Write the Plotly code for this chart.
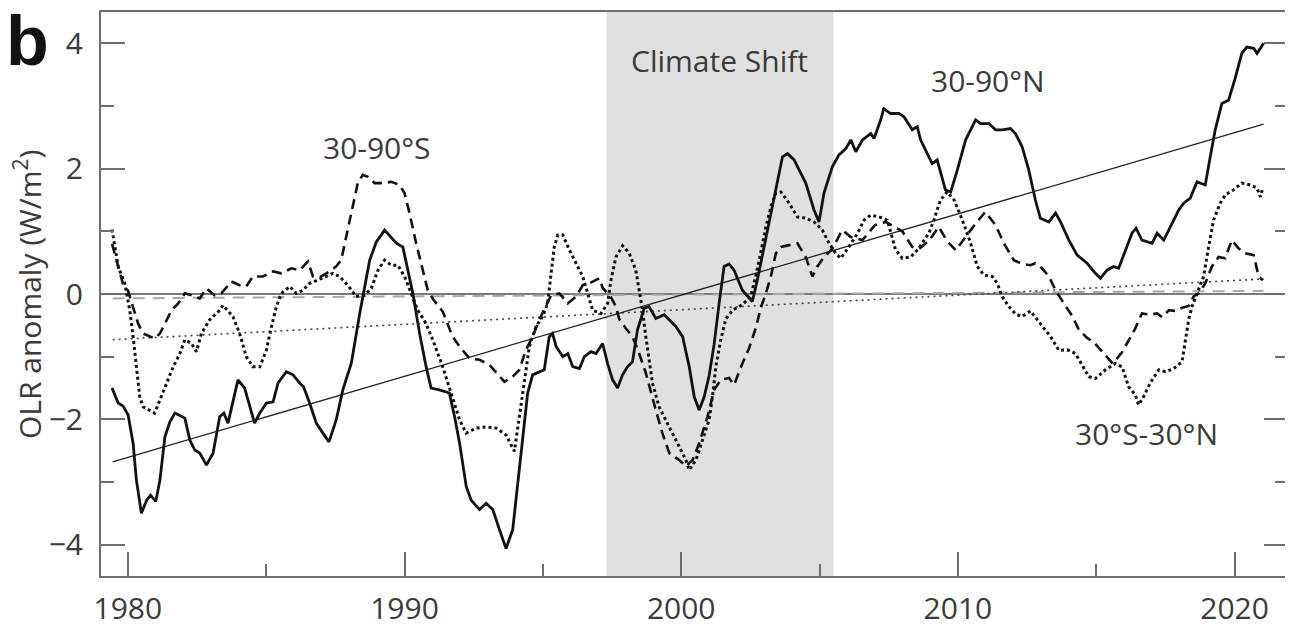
import plotly.graph_objects as go

# 30-90°N (solid)
north_years = [1979.43, 1979.65, 1979.83, 1980.01, 1980.19, 1980.31, 1980.49, 1980.68, 1980.82, 1981.01,
               1981.16, 1981.34, 1981.52, 1981.70, 1982.06, 1982.24, 1982.42, 1982.60, 1982.84, 1983.08,
               1983.32, 1983.47, 1983.62, 1983.80, 1983.98, 1984.22, 1984.58, 1984.77, 1985.01, 1985.25,
               1985.43, 1985.73, 1985.97, 1986.21, 1986.35, 1986.57, 1986.81, 1987.05, 1987.27, 1987.53,
               1987.77, 1988.08, 1988.38, 1988.74, 1988.98, 1989.28, 1989.52, 1989.70, 1989.94, 1990.30,
               1990.54, 1990.78, 1990.96, 1991.26, 1991.62, 1991.81, 1991.99, 1992.23, 1992.41, 1992.71,
               1992.95, 1993.19, 1993.43, 1993.67, 1993.91, 1994.09, 1994.27, 1994.45, 1994.63, 1995.05,
               1995.23, 1995.35, 1995.48, 1995.72, 1995.90, 1996.08, 1996.32, 1996.50, 1996.74, 1996.92,
               1997.16, 1997.34, 1997.52, 1997.70, 1997.88, 1998.06, 1998.24, 1998.42, 1998.66, 1998.84,
               1999.08, 1999.39, 1999.81, 2000.05, 2000.29, 2000.47, 2000.65, 2000.83, 2001.01, 2001.19,
               2001.37, 2001.55, 2001.73, 2001.91, 2002.21, 2002.57, 2002.75, 2003.06, 2003.36, 2003.66,
               2003.84, 2004.08, 2004.50, 2004.80, 2004.98, 2005.16, 2005.46, 2005.70, 2005.95, 2006.13,
               2006.31, 2006.55, 2006.85, 2006.97, 2007.21, 2007.32, 2007.57, 2007.87, 2008.05, 2008.35,
               2008.53, 2008.65, 2008.95, 2009.07, 2009.25, 2009.55, 2009.74, 2009.98, 2010.28, 2010.64,
               2010.82, 2011.12, 2011.36, 2011.60, 2011.90, 2012.08, 2012.32, 2012.56, 2012.80, 2012.98,
               2013.29, 2013.53, 2013.71, 2014.01, 2014.31, 2014.67, 2014.97, 2015.15, 2015.39, 2015.63,
               2015.81, 2016.05, 2016.29, 2016.44, 2016.65, 2017.02, 2017.20, 2017.44, 2017.62, 2017.80,
               2017.98, 2018.16, 2018.40, 2018.64, 2018.94, 2019.12, 2019.30, 2019.54, 2019.78, 2020.02,
               2020.26, 2020.44, 2020.69, 2020.81, 2021.05]
north_olr = [-1.50, -1.74, -1.79, -1.93, -2.38, -2.97, -3.50, -3.29, -3.21, -3.31,
             -2.97, -2.28, -2.04, -1.90, -1.98, -2.33, -2.49, -2.54, -2.73, -2.54,
             -1.96, -1.90, -2.06, -1.69, -1.37, -1.50, -2.06, -1.90, -1.74, -1.72,
             -1.42, -1.24, -1.29, -1.42, -1.48, -1.74, -2.06, -2.22, -2.36, -2.01,
             -1.53, -1.10, -0.31, 0.54, 0.83, 1.02, 0.89, 0.81, 0.75, 0.01,
             -0.62, -1.16, -1.50, -1.53, -1.58, -1.96, -2.38, -3.07, -3.29, -3.44,
             -3.34, -3.44, -3.76, -4.06, -3.76, -3.02, -2.22, -1.58, -1.29, -1.21,
             -0.68, -0.63, -0.84, -1.00, -0.95, -1.16, -1.19, -1.00, -0.92, -0.95,
             -0.79, -1.11, -1.37, -1.50, -1.29, -1.16, -1.08, -0.57, -0.23, -0.20,
             -0.39, -0.33, -0.52, -0.68, -1.16, -1.64, -1.85, -1.64, -1.30, -0.80,
             -0.15, 0.44, 0.48, 0.38, 0.06, -0.12, 0.22, 0.91, 1.55, 2.19,
             2.24, 2.14, 1.77, 1.34, 1.15, 1.61, 2.03, 2.22, 2.32, 2.46,
             2.27, 2.46, 2.56, 2.48, 2.78, 2.96, 2.88, 2.88, 2.83, 2.62,
             2.67, 2.46, 2.19, 2.08, 2.14, 1.66, 1.63, 1.98, 2.46, 2.78,
             2.72, 2.72, 2.62, 2.62, 2.64, 2.56, 2.35, 1.98, 1.50, 1.21,
             1.15, 1.29, 1.15, 0.86, 0.62, 0.49, 0.33, 0.25, 0.38, 0.44,
             0.41, 0.70, 0.97, 1.05, 0.86, 0.81, 0.97, 0.86, 1.02, 1.18,
             1.34, 1.45, 1.53, 1.79, 1.74, 2.19, 2.62, 3.04, 3.09, 3.44,
             3.84, 3.94, 3.92, 3.84, 4.00]

# 30-90°S (dashed)
south_years = [1979.43, 1979.65, 1979.83, 1980.01, 1980.19, 1980.37, 1980.55, 1980.79, 1980.97, 1981.16,
               1981.34, 1981.58, 1981.82, 1982.06, 1982.30, 1982.60, 1982.84, 1983.14, 1983.38, 1983.74,
               1984.04, 1984.28, 1984.52, 1984.88, 1985.25, 1985.55, 1985.91, 1986.21, 1986.51, 1986.69,
               1986.99, 1987.29, 1987.53, 1987.71, 1987.89, 1988.13, 1988.31, 1988.49, 1988.68, 1988.92,
               1989.22, 1989.52, 1989.82, 1990.00, 1990.18, 1990.42, 1990.66, 1990.84, 1991.06, 1991.38,
               1991.74, 1991.99, 1992.35, 1992.71, 1993.07, 1993.43, 1993.61, 1993.91, 1994.15, 1994.39,
               1994.63, 1994.87, 1995.11, 1995.30, 1995.60, 1995.90, 1996.20, 1996.44, 1996.68, 1997.04,
               1997.16, 1997.46, 1997.64, 1997.76, 1998.00, 1998.24, 1998.48, 1998.72, 1999.08, 1999.32,
               1999.57, 1999.93, 2000.17, 2000.41, 2000.65, 2000.95, 2001.19, 2001.43, 2001.73, 2001.91,
               2002.21, 2002.45, 2002.69, 2002.87, 2003.06, 2003.24, 2003.42, 2003.60, 2003.90, 2004.20,
               2004.50, 2004.74, 2004.92, 2005.16, 2005.46, 2005.82, 2006.13, 2006.55, 2007.00, 2007.40,
               2007.99, 2008.35, 2008.60, 2008.95, 2009.31, 2009.60, 2009.92, 2010.25, 2010.60, 2010.99,
               2011.36, 2011.66, 2012.02, 2012.32, 2012.62, 2012.80, 2013.04, 2013.29, 2013.53, 2013.83,
               2014.13, 2014.37, 2014.67, 2014.91, 2015.15, 2015.39, 2015.60, 2015.93, 2016.17, 2016.41,
               2016.65, 2016.95, 2017.20, 2017.38, 2017.62, 2017.86, 2018.10, 2018.34, 2018.52, 2018.70,
               2018.94, 2019.18, 2019.42, 2019.66, 2019.90, 2020.14, 2020.38, 2020.69, 2020.87, 2021.02]
south_olr = [0.80, 0.45, 0.15, 0.05, -0.20, -0.47, -0.63, -0.68, -0.71, -0.63,
             -0.47, -0.26, -0.15, 0.01, -0.02, -0.07, 0.09, -0.02, 0.01, 0.20,
             0.14, 0.12, 0.28, 0.28, 0.36, 0.33, 0.41, 0.38, 0.52, 0.28,
             0.28, 0.36, 0.44, 0.54, 0.91, 1.39, 1.77, 1.90, 1.87, 1.77,
             1.77, 1.79, 1.74, 1.61, 1.29, 0.81, 0.38, 0.06, -0.10, -0.28,
             -0.68, -0.84, -1.03, -1.05, -1.13, -1.32, -1.40, -1.32, -1.21, -0.89,
             -0.68, -0.41, -0.20, -0.02, 0.01, -0.15, -0.04, 0.14, 0.17, 0.25,
             0.10, -0.05, -0.20, -0.40, -0.55, -0.68, -0.95, -1.26, -1.85, -2.22,
             -2.54, -2.65, -2.75, -2.65, -2.38, -1.96, -1.53, -1.37, -1.34, -1.45,
             -1.11, -0.87, -0.55, -0.23, 0.01, 0.28, 0.65, 0.75, 0.78, 0.81,
             0.59, 0.28, 0.44, 0.59, 0.72, 1.02, 0.91, 0.86, 1.10, 1.15,
             1.00, 0.75, 0.72, 0.85, 1.07, 0.85, 0.70, 0.90, 1.10, 1.31,
             1.10, 0.81, 0.54, 0.48, 0.46, 0.49, 0.41, 0.28, 0.06, -0.15,
             -0.35, -0.57, -0.70, -0.77, -0.89, -1.02, -1.11, -0.93, -0.75, -0.55,
             -0.31, -0.33, -0.31, -0.37, -0.26, -0.27, -0.22, -0.19, -0.04, 0.01,
             0.17, 0.44, 0.59, 0.57, 0.86, 0.73, 0.65, 0.62, 0.28, 0.22]

# 30°S-30°N (dotted)
trop_years = [1979.43, 1979.53, 1979.65, 1979.89, 1980.07, 1980.19, 1980.31, 1980.43, 1980.55, 1980.79,
              1980.97, 1981.16, 1981.40, 1981.64, 1981.88, 1982.06, 1982.30, 1982.48, 1982.66, 1982.96,
              1983.32, 1983.44, 1983.80, 1984.04, 1984.28, 1984.52, 1984.77, 1985.01, 1985.19, 1985.37,
              1985.55, 1985.85, 1986.09, 1986.33, 1986.57, 1986.87, 1987.17, 1987.41, 1987.65, 1987.95,
              1988.25, 1988.56, 1988.80, 1989.04, 1989.28, 1989.52, 1989.76, 1990.00, 1990.24, 1990.48,
              1990.75, 1991.02, 1991.38, 1991.74, 1991.99, 1992.23, 1992.59, 1992.95, 1993.31, 1993.67,
              1993.97, 1994.15, 1994.33, 1994.51, 1994.75, 1994.99, 1995.17, 1995.29, 1995.41, 1995.54,
              1995.72, 1995.96, 1996.20, 1996.44, 1996.62, 1996.80, 1997.10, 1997.34, 1997.46, 1997.64,
              1997.88, 1998.12, 1998.36, 1998.48, 1998.60, 1998.72, 1998.84, 1998.96, 1999.20, 1999.57,
              1999.93, 2000.17, 2000.29, 2000.53, 2000.77, 2001.01, 2001.13, 2001.25, 2001.43, 2001.61,
              2001.85, 2002.21, 2002.51, 2002.69, 2002.87, 2003.06, 2003.24, 2003.42, 2003.60, 2003.90,
              2004.20, 2004.50, 2004.80, 2005.10, 2005.34, 2005.58, 2005.76, 2006.06, 2006.37, 2006.61,
              2006.85, 2007.15, 2007.45, 2007.57, 2007.75, 2007.99, 2008.29, 2008.59, 2008.95, 2009.13,
              2009.37, 2009.61, 2009.86, 2010.16, 2010.46, 2010.70, 2010.94, 2011.24, 2011.42, 2011.60,
              2011.84, 2012.08, 2012.32, 2012.62, 2012.86, 2013.11, 2013.35, 2013.65, 2013.95, 2014.25,
              2014.49, 2014.73, 2014.97, 2015.33, 2015.69, 2015.93, 2016.17, 2016.41, 2016.53, 2016.71,
              2016.95, 2017.26, 2017.50, 2017.80, 2018.10, 2018.22, 2018.34, 2018.46, 2018.70, 2018.88,
              2019.06, 2019.24, 2019.48, 2019.66, 2019.96, 2020.26, 2020.56, 2020.81, 2020.93, 2021.00]
trop_olr = [1.03, 0.75, 0.44, 0.17, -0.26, -0.68, -1.16, -1.64, -1.80, -1.85,
            -1.90, -1.69, -1.42, -1.16, -0.95, -0.73, -0.79, -0.92, -0.63, -0.41,
            -0.26, -0.18, -0.36, -0.63, -1.00, -1.16, -1.16, -0.89, -0.52, -0.20,
            0.01, 0.12, 0.01, 0.06, 0.17, 0.22, 0.28, 0.33, 0.28, 0.14,
            -0.04, -0.02, 0.09, 0.38, 0.54, 0.46, 0.46, 0.28, 0.01, -0.26,
            -0.45, -0.73, -1.16, -1.64, -2.01, -2.22, -2.14, -2.12, -2.14, -2.25,
            -2.51, -1.96, -1.37, -0.84, -0.52, -0.36, -0.15, 0.28, 0.75, 0.94,
            0.94, 0.70, 0.49, 0.28, 0.01, -0.26, -0.31, -0.15, 0.22, 0.59,
            0.77, 0.65, 0.38, 0.06, -0.26, -0.68, -1.05, -1.42, -1.80, -2.12,
            -2.44, -2.65, -2.81, -2.65, -2.33, -2.01, -1.64, -1.16, -0.73, -0.40,
            -0.26, -0.17, -0.04, 0.28, 0.65, 1.07, 1.39, 1.61, 1.63, 1.45,
            1.23, 1.21, 1.15, 1.02, 0.81, 0.65, 0.57, 0.75, 0.97, 1.18,
            1.26, 1.23, 1.18, 0.97, 0.70, 0.57, 0.59, 0.73, 0.97, 1.18,
            1.50, 1.63, 1.50, 1.18, 0.81, 0.44, 0.30, 0.28, 0.17, -0.04,
            -0.20, -0.32, -0.36, -0.27, -0.40, -0.55, -0.68, -0.90, -0.89, -0.95,
            -1.13, -1.32, -1.35, -1.21, -1.11, -1.16, -1.48, -1.61, -1.77, -1.64,
            -1.42, -1.21, -1.24, -1.19, -1.08, -0.73, -0.41, -0.20, 0.06, 0.28,
            0.75, 1.18, 1.45, 1.58, 1.66, 1.77, 1.74, 1.69, 1.55, 1.66]

# linear trends (end points)
trend_years = [1979.45, 2021.05]
trend_north = [-2.68, 2.71]
trend_trop = [-0.73, 0.24]
trend_south = [-0.07, 0.05]

shift_years = [1997.3, 2005.5]

FONT = "Open Sans"
TXT = "#3a3a3a"
AX = "#6e6e6e"

fig = go.Figure()

fig.add_trace(go.Scatter(x=trend_years, y=trend_south, mode="lines",
                         line=dict(color="#a8a8a8", width=2, dash="12px,8px")))
fig.add_trace(go.Scatter(x=trend_years, y=trend_trop, mode="lines",
                         line=dict(color="#444444", width=1.6, dash="2px,4px")))
fig.add_trace(go.Scatter(x=trend_years, y=trend_north, mode="lines",
                         line=dict(color="#222222", width=1.3)))

fig.add_trace(go.Scatter(x=trop_years, y=trop_olr, mode="lines",
                         line=dict(color="#111111", width=3, dash="3px,3px")))
fig.add_trace(go.Scatter(x=south_years, y=south_olr, mode="lines",
                         line=dict(color="#111111", width=2.6, dash="10px,6px")))
fig.add_trace(go.Scatter(x=north_years, y=north_olr, mode="lines",
                         line=dict(color="#111111", width=2.8)))

fig.add_shape(type="rect", xref="x", yref="paper", x0=shift_years[0], x1=shift_years[1],
              y0=0, y1=1, fillcolor="#e0e0e0", line=dict(width=0), layer="below")

labels = [
    ("Climate Shift", 2001.37, 3.72),
    ("30-90°N", 2011.10, 3.41),
    ("30-90°S", 1989.01, 2.33),
    ("30°S-30°N", 2016.82, -2.22),
]
for txt, lx, ly in labels:
    fig.add_annotation(x=lx, y=ly, text=txt, showarrow=False, xanchor="center", yanchor="middle",
                       font=dict(family=FONT, size=30, color=TXT))

fig.add_annotation(xref="paper", yref="paper", x=-0.0615, y=0.5, text="OLR anomaly (W/m<sup>2</sup>)",
                   textangle=-90, showarrow=False, xanchor="center", yanchor="middle",
                   font=dict(family=FONT, size=30, color=TXT))
fig.add_annotation(xref="paper", yref="paper", x=-0.0615, y=0.9486, text="<b>b</b>",
                   showarrow=False, xanchor="center", yanchor="middle",
                   font=dict(family="Liberation Sans", size=70, color="#111111"))

fig.update_xaxes(range=[1979.03, 2021.93], tickvals=[1980, 1990, 2000, 2010, 2020],
                 ticks="inside", ticklen=24, tickwidth=2, tickcolor=AX,
                 showline=True, linecolor=AX, linewidth=2, mirror=True,
                 showgrid=False, zeroline=False, ticklabelstandoff=5, automargin=False,
                 minor=dict(tickvals=[1985, 1995, 2005, 2015], ticks="inside", ticklen=12,
                            tickwidth=2, tickcolor=AX, showgrid=False),
                 tickfont=dict(family=FONT, size=30, color=TXT))
fig.update_yaxes(range=[-4.5, 4.5], tickvals=[-4, -2, 0, 2, 4],
                 ticks="inside", ticklen=24, tickwidth=2, tickcolor=AX,
                 showline=True, linecolor=AX, linewidth=2, mirror="ticks",
                 showgrid=False, zeroline=True, zerolinecolor="#7a7a7a", zerolinewidth=2,
                 ticklabelstandoff=10, automargin=False,
                 minor=dict(tickvals=[-3, -1, 1, 3], ticks="inside", ticklen=13,
                            tickwidth=2, tickcolor=AX, showgrid=False),
                 tickfont=dict(family=FONT, size=30, color=TXT))

# page body adds an 8px margin, so the figure is sized to sit inside the window
fig.update_layout(width=1285, height=618, showlegend=False,
                  margin=dict(l=93, r=5, t=4, b=50),
                  paper_bgcolor="white", plot_bgcolor="white")

fig.write_html("out.html")
